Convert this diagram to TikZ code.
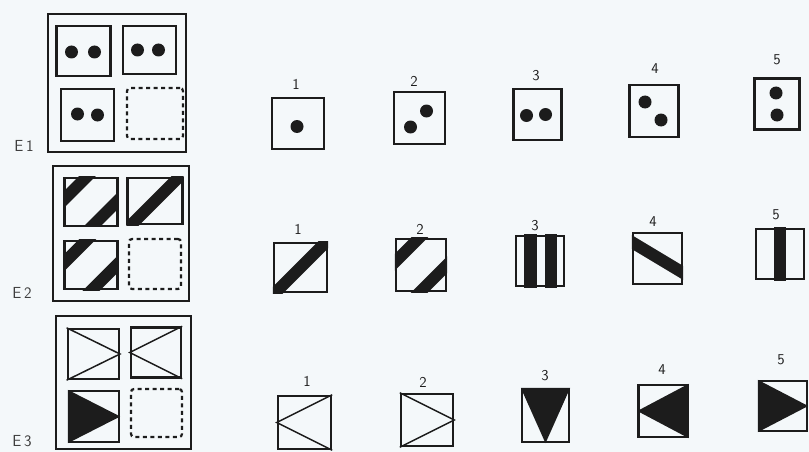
\documentclass[tikz,border=0pt]{standalone}
\usepackage{tikz}
\usetikzlibrary{calc}

\definecolor{ink}{HTML}{1C1C1C}
\definecolor{paper}{HTML}{F4F8FA}

% thick stripe inside a box, clipped to it
\newcommand{\band}[4]{%
  \begin{scope}
    \clip (#1.south west) rectangle (#1.north east);
    \draw[ink, line width=#2pt] ($(#1.center)+(#3)$) -- ($(#1.center)+(#4)$);
  \end{scope}}
% one dot, offset from the box centre
\newcommand{\pip}[2]{\fill[ink] ($(#1.center)+(#2)$) circle[radius=6.5pt];}

\begin{document}
\begin{tikzpicture}[x=1pt, y=-1pt,
  box/.style 2 args={draw=ink, line width=2.4pt, inner sep=0pt,
    minimum width=#1pt, minimum height=#2pt},
  gap/.style 2 args={box={#1}{#2}, line width=2.2pt, dash pattern=on 4pt off 3.5pt,
    rounded corners=3pt},
  panel/.style 2 args={draw=ink, line width=2.4pt, inner sep=0pt,
    minimum width=#1pt, minimum height=#2pt},
  num/.style={font=\sffamily\fontsize{15}{15}\selectfont, text=ink},
  tag/.style={font=\sffamily\fontsize{16}{16}\selectfont, text=ink!85},
  wire/.style={draw=ink, line width=1.5pt}]
\fill[paper] (0,0) rectangle (809,452);
\useasboundingbox (0,0) rectangle (809,452);

% E1 matrix
\node[panel={138}{138}] (e1) at (117,83) {};
\node[box={54}{50}] (e1a) at (83.5,51) {};
\node[box={53}{48}] (e1b) at (149.5,50) {};
\node[box={53}{52}] (e1c) at (87.5,115) {};
\node[gap={56}{51}] (e1d) at (155,113.5) {};
\node[tag] (t1) at (24,146) {E\,1};
\pip{e1a}{-12,1} \pip{e1a}{11,1}
\pip{e1b}{-12,0} \pip{e1b}{9,0}
\pip{e1c}{-10,-1} \pip{e1c}{10,0}

% E2 matrix
\node[panel={136}{135}] (e2) at (121,233.5) {};
\node[box={53}{48}] (e2a) at (90.8,201.7) {};
\node[box={55}{46}] (e2b) at (155,201) {};
\node[box={53}{48}] (e2c) at (90.8,265) {};
\node[gap={52}{50}] (e2d) at (155,264) {};
\node[tag] (t2) at (22,293) {E\,2};
\band{e2a}{12}{-40,11}{40,-69} \band{e2a}{12}{-40,66}{40,-14}
\band{e2b}{12}{-40,40}{40,-40}
\band{e2c}{12}{-40,11}{40,-69} \band{e2c}{12}{-40,66}{40,-14}

% E3 matrix
\node[panel={135}{133}] (e3) at (123.5,382.5) {};
\node[box={51}{50}] (e3a) at (93.3,354) {};
\node[box={50}{50}] (e3b) at (156,352.5) {};
\node[box={50}{51}] (e3c) at (94,416.5) {};
\node[gap={51}{48}] (e3d) at (156.5,413) {};
\node[tag] (t3) at (22,441) {E\,3};
\draw[wire] (e3a.north west) -- (e3a.east) -- (e3a.south west);
\draw[wire] (e3b.north east) -- (e3b.west) -- (e3b.south east);
\fill[ink] (e3c.north west) -- (e3c.east) -- (e3c.south west) -- cycle;

% answers, row 1
\node[box={52}{51}] (o11) at (298,123.5) {};
\node[box={51}{52}] (o12) at (419.5,118) {};
\node[box={48}{51}] (o13) at (537.5,114.5) {};
\node[box={49}{52}] (o14) at (654,111) {};
\node[box={45}{51}] (o15) at (777,104) {};
\node[num] (n11) at (296,84) {1};
\node[num] (n12) at (414,81) {2};
\node[num] (n13) at (536,76) {3};
\node[num] (n14) at (655,69) {4};
\node[num] (n15) at (777,60) {5};
\pip{o11}{-1,3}
\pip{o12}{-9,9} \pip{o12}{7,-7}
\pip{o13}{-11,1} \pip{o13}{8,0}
\pip{o14}{-9,-9} \pip{o14}{7,9}
\pip{o15}{-1,-11} \pip{o15}{0,11}

% answers, row 2
\node[box={53}{49}] (o21) at (300.5,267.5) {};
\node[box={50}{52}] (o22) at (421,265) {};
\node[box={48}{50}] (o23) at (540,261) {};
\node[box={49}{51}] (o24) at (657.5,258.5) {};
\node[box={48}{50}] (o25) at (780,254) {};
\node[num] (n21) at (298,229) {1};
\node[num] (n22) at (420,229) {2};
\node[num] (n23) at (535,226) {3};
\node[num] (n24) at (653,222) {4};
\node[num] (n25) at (776,215) {5};
\band{o21}{12}{-40,40}{40,-40}
\band{o22}{12}{-40,11}{40,-69} \band{o22}{12}{-40,66}{40,-14}
\band{o23}{13}{-10,-40}{-10,40} \band{o23}{12}{11,-40}{11,40}
\band{o24}{12}{-40,-25}{40,23}
\band{o25}{12}{0,-40}{0,40}

% answers, row 3
\node[box={53}{53}] (o31) at (304.5,422.5) {};
\node[box={52}{52}] (o32) at (427,420) {};
\node[box={47}{53}] (o33) at (545.5,415.5) {};
\node[box={49}{52}] (o34) at (663,411) {};
\node[box={48}{50}] (o35) at (783,406) {};
\node[num] (n31) at (307,381) {1};
\node[num] (n32) at (423,382) {2};
\node[num] (n33) at (545,376) {3};
\node[num] (n34) at (662,370) {4};
\node[num] (n35) at (781,360) {5};
\draw[wire] (o31.north east) -- (o31.west) -- (o31.south east);
\draw[wire] (o32.north west) -- (o32.east) -- (o32.south west);
\fill[ink] (o33.north west) -- (o33.north east) -- (o33.south) -- cycle;
\fill[ink] (o34.north east) -- (o34.south east) -- (o34.west) -- cycle;
\fill[ink] (o35.north west) -- (o35.south west) -- (o35.east) -- cycle;
\end{tikzpicture}
\end{document}
